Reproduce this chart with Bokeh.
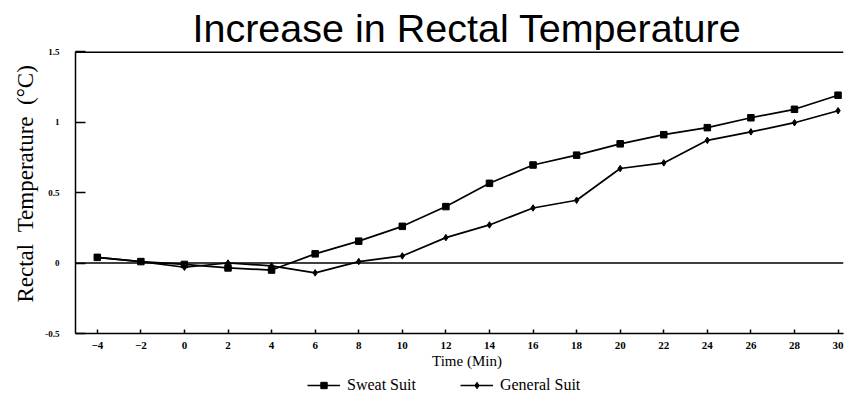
from bokeh.plotting import figure
from bokeh.layouts import column
from bokeh.models import Range1d, FixedTicker, Span, Legend, LegendItem
from bokeh.embed import file_html
from bokeh.resources import INLINE

# ---- data ----
time_min = [-4, -2, 0, 2, 4, 6, 8, 10, 12, 14, 16, 18, 20, 22, 24, 26, 28, 30]
sweat_suit = [0.04, 0.01, -0.01, -0.035, -0.05, 0.065, 0.155, 0.26, 0.40, 0.565,
              0.695, 0.765, 0.845, 0.91, 0.96, 1.03, 1.09, 1.19]
general_suit = [0.04, 0.01, -0.03, 0.0, -0.02, -0.07, 0.01, 0.05, 0.18, 0.27,
                0.39, 0.445, 0.67, 0.71, 0.87, 0.93, 0.995, 1.08]
x_ticks = list(range(-4, 31, 2))
y_ticks = [-0.5, 0, 0.5, 1, 1.5]
y_tick_labels = ["-0.5", "0", "0.5", "1", "1.5"]
series_names = ["Sweat Suit", "General Suit"]
title_text = "Increase in Rectal Temperature"
x_label = "\u00a0\u00a0\u00a0\u00a0Time (Min)"
y_label = "\u00a0\u00a0\u00a0Rectal\u00a0\u00a0Temperature\u00a0\u00a0(\u00b0C)"

serif = "Liberation Serif"

p = figure(width=851, height=372, output_backend="svg", toolbar_location=None,
           x_range=Range1d(-5, 30.25), y_range=Range1d(-0.5, 1.5),
           min_border_left=75, min_border_right=8, min_border_top=51,
           min_border_bottom=39)

p.title.text = title_text
p.title.text_font = "Liberation Sans"
p.title.text_font_size = "39.5px"
p.title.text_font_style = "normal"
p.title.align = "left"
p.title.offset = 117
p.title.text_color = "black"
p.title.standoff = 4

p.outline_line_color = None
p.xgrid.visible = False
p.ygrid.visible = False
p.background_fill_color = "white"
p.border_fill_color = "white"

# axes
for ax in (p.xaxis[0], p.yaxis[0]):
    ax.axis_line_color = "black"
    ax.axis_line_width = 1.5
    ax.major_tick_line_color = "black"
    ax.major_tick_line_width = 1.5
    ax.minor_tick_line_color = None
    ax.major_tick_out = 0
    ax.major_label_text_font = serif
    ax.major_label_text_font_style = "bold"
    ax.major_label_text_color = "black"
    ax.axis_label_text_font = serif
    ax.axis_label_text_font_style = "normal"
    ax.axis_label_text_color = "black"

p.xaxis.ticker = FixedTicker(ticks=x_ticks)
p.xaxis.major_tick_in = 4
p.xaxis.major_label_text_font_size = "11px"
p.xaxis.major_label_standoff = 8
p.xaxis.axis_label = x_label
p.xaxis.axis_label_text_font_size = "15px"
p.xaxis.axis_label_standoff = 1

p.yaxis.ticker = FixedTicker(ticks=y_ticks)
p.yaxis.major_label_overrides = {t: s for t, s in zip(y_ticks, y_tick_labels)}
p.yaxis.major_tick_in = 10
p.yaxis.major_label_text_font_size = "9px"
p.yaxis.major_label_standoff = 16
p.yaxis.axis_label = y_label
p.yaxis.axis_label_text_font_size = "23px"
p.yaxis.axis_label_standoff = 4

# zero line & top border
p.add_layout(Span(location=0, dimension="width", line_color="black", line_width=1.5))
p.add_layout(Span(location=1.5, dimension="width", line_color="black", line_width=3))

# series
p.line(time_min, sweat_suit, line_color="black", line_width=1.7)
p.scatter(time_min, sweat_suit, marker="square", size=6.5, fill_color="black", line_color="black")
p.line(time_min, general_suit, line_color="black", line_width=1.7)
p.scatter(time_min, general_suit, marker="diamond", size=6.5, fill_color="black", line_color="black")

# legend strip under the chart (same series, view placed away from the data)
q = figure(width=851, height=24, output_backend="svg", toolbar_location=None,
           x_range=Range1d(1000, 1001), y_range=Range1d(1000, 1001), min_border=0)
q.xaxis.visible = False
q.yaxis.visible = False
q.xgrid.visible = False
q.ygrid.visible = False
q.outline_line_color = None
q.background_fill_color = "white"
q.border_fill_color = "white"
ql1 = q.line(time_min, sweat_suit, line_color="black", line_width=1.7)
qm1 = q.scatter(time_min, sweat_suit, marker="square", size=6.5, fill_color="black", line_color="black")
ql2 = q.line(time_min, general_suit, line_color="black", line_width=1.7)
qm2 = q.scatter(time_min, general_suit, marker="diamond", size=6.5, fill_color="black", line_color="black")

legend = Legend(items=[LegendItem(label=series_names[0], renderers=[ql1, qm1]),
                       LegendItem(label=series_names[1], renderers=[ql2, qm2])],
                orientation="horizontal", location=(232, 2),
                label_text_font=serif, label_text_font_size="16px",
                label_text_color="black", glyph_width=33, glyph_height=16,
                label_height=16, label_standoff=7,
                spacing=44, padding=0, margin=0, border_line_color=None,
                background_fill_alpha=0)
q.add_layout(legend)

layout = column(p, q, spacing=0)
open("out.html", "w").write(file_html(layout, INLINE))
